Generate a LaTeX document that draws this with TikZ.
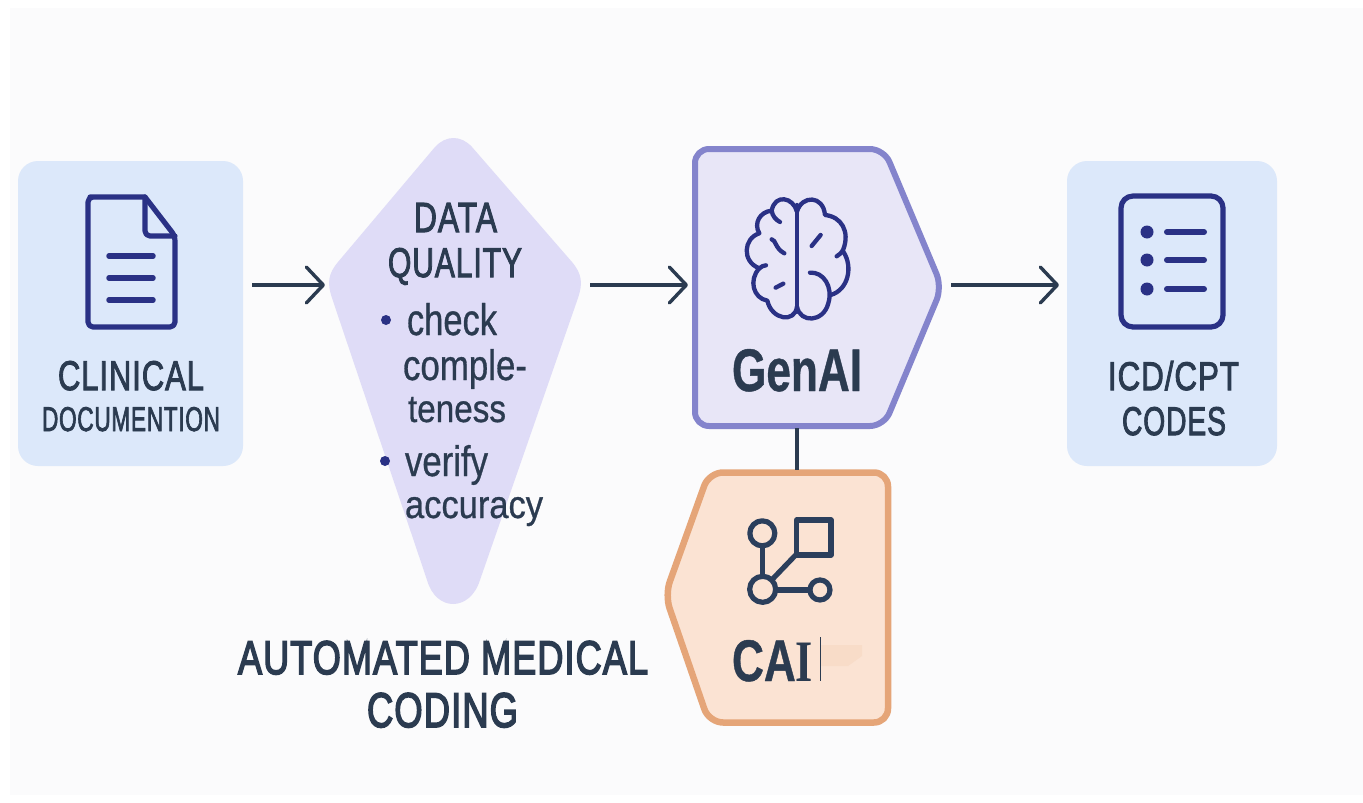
\documentclass[tikz,border=0pt]{standalone}
\usepackage{fontspec}
\usepackage{graphicx}
\usetikzlibrary{arrows.meta}
\setmainfont[FakeBold=0.8,BoldFont={Liberation Sans Bold}]{Liberation Sans}
\newfontfamily\medf[FakeBold=2.6,LetterSpace=3]{Liberation Sans}
\newfontfamily\semif[FakeBold=3.6,LetterSpace=3]{Liberation Sans}
\newfontfamily\slabf{Liberation Serif Bold}
\definecolor{ink}{HTML}{2B3B50}
\definecolor{navy}{HTML}{2A3185}
\definecolor{slateicon}{HTML}{2B3F5C}
\definecolor{paper}{HTML}{FBFBFC}
\definecolor{bluebox}{HTML}{DCE8FA}
\definecolor{lilac}{HTML}{DFDCF7}
\definecolor{genfill}{HTML}{E8E6F7}
\definecolor{genedge}{HTML}{8484CC}
\definecolor{caifill}{HTML}{FBE3D3}
\definecolor{caiedge}{HTML}{E5A578}
\definecolor{patch}{HTML}{F8DCC8}
\newcommand{\fitted}[3]{\resizebox{#1pt}{#2pt}{#3}}
\tikzset{
  lbl/.style={anchor=base west,inner sep=0pt,outer sep=0pt,text=ink},
  panel/.style={fill=bluebox,draw=none,rounded corners=20pt},
  flow/.style={draw=ink,line width=3.4pt,-{Straight Barb[length=17pt,width=36pt,line width=3.4pt,round]}},
  link/.style={draw=ink,line width=3.8pt},
  iconline/.style={draw=navy,line width=5.2pt,line cap=round,line join=round},
  brainline/.style={draw=navy,line width=4.3pt,line cap=round,line join=round},
  graphline/.style={draw=slateicon,line width=5.2pt,line join=round},
  dot/.style={fill=navy,draw=none,circle,inner sep=0pt,minimum size=#1},
}
\begin{document}
\begin{tikzpicture}[x=1pt,y=-1pt]
\useasboundingbox (0,0) rectangle (1363,803);
\fill[white] (0,0) rectangle (1363,803);
\fill[paper] (10,8) rectangle (1363,795);

% panels
\path[panel] (18,161) rectangle (243,466);
\path[panel] (1067,161) rectangle (1277,466);
\fill[lilac] (435,147) .. controls (446,135) and (461,135) .. (472,147) -- (572,262)
  .. controls (582,274) and (583,283) .. (578,298) -- (480,580)
  .. controls (470,612) and (436,612) .. (427,580) -- (332,298)
  .. controls (327,283) and (328,274) .. (338,262) -- cycle;
\draw[fill=genfill,draw=genedge,line width=6pt,rounded corners=14pt,line join=round]
  (695,149) -- (884,149) -- (942,287) -- (884,426) -- (695,426) -- cycle;
\draw[fill=caifill,draw=caiedge,line width=6.5pt,rounded corners=14pt,line join=round]
  (709,472.5) -- (888,472.5) -- (888,722.5) -- (709,722.5) -- (665,595) -- cycle;

% connectors
\coordinate (a1s) at (252,285); \coordinate (a1e) at (325,285);
\coordinate (a2s) at (590,285); \coordinate (a2e) at (688,285);
\coordinate (a3s) at (951,285); \coordinate (a3e) at (1059,285);
\coordinate (genb) at (797,428); \coordinate (cait) at (797,470);
\draw[flow] (a1s) -- (a1e);
\draw[flow] (a2s) -- (a2e);
\draw[flow] (a3s) -- (a3e);
\draw[link] (genb) -- (cait);

% document icon
\draw[iconline,rounded corners=5pt] (145,197) -- (95,197) -- (88,197) -- (88,327) -- (175,327) -- (175,236) -- (145,197);
\draw[iconline,rounded corners=5pt] (145,197) -- (145,236) -- (175,236);
\draw[iconline,line width=5.5pt] (109,256) -- (153,256);
\draw[iconline,line width=5.5pt] (109,278) -- (153,278);
\draw[iconline,line width=5.5pt] (109,300) -- (153,300);

% list icon
\draw[iconline,rounded corners=12pt] (1121,196) rectangle (1223,327);
\node[dot=13pt] (d1) at (1147,232) {};
\node[dot=13pt] (d2) at (1147,260) {};
\node[dot=13pt] (d3) at (1147,289) {};
\draw[iconline,line width=6pt] (1167,232) -- (1204,232);
\draw[iconline,line width=6pt] (1167,260) -- (1204,260);
\draw[iconline,line width=6pt] (1167,289) -- (1204,289);

% brain icon (coordinates: zoomed crop)
\begin{scope}[shift={(660,140)},x=0.3333pt,y=-0.3333pt]
\draw[brainline] (411,195) -- (411,515);
\draw[brainline] (411,215) .. controls (400,172) and (345,160) .. (335,212)
  .. controls (337,228) and (348,240) .. (360,246);
\draw[brainline] (335,212) .. controls (300,215) and (280,250) .. (298,280)
  .. controls (250,295) and (245,365) .. (298,385);
\draw[brainline] (298,385) .. controls (305,378) and (310,378) .. (318,376);
\draw[brainline] (298,385) .. controls (265,420) and (280,475) .. (322,482)
  .. controls (335,540) and (405,550) .. (411,500);
\draw[brainline] (411,215) .. controls (425,165) and (490,165) .. (495,225)
  .. controls (545,230) and (570,275) .. (550,328)
  .. controls (545,338) and (538,345) .. (530,349);
\draw[brainline] (550,335) .. controls (580,380) and (565,450) .. (512,465);
\draw[brainline] (450,398) .. controls (490,395) and (520,440) .. (505,490)
  .. controls (490,548) and (420,550) .. (411,500);
\draw[brainline] (335,298) .. controls (348,300) and (345,325) .. (373,340);
\draw[brainline] (482,285) -- (455,318);
\draw[brainline] (347,443) -- (370,431);
\end{scope}

% graph icon (coordinates: zoomed crop)
\begin{scope}[shift={(650,430)},x=0.3333pt,y=-0.3333pt]
\draw[graphline] (337,310) circle[radius=12.5pt];
\draw[graphline] (338,478) circle[radius=13pt];
\draw[graphline] (510,480) circle[radius=10pt];
\draw[graphline] (440,270) rectangle (543,375);
\draw[graphline] (337,352) -- (337,438);
\draw[graphline] (368,447) -- (440,372);
\draw[graphline] (377,480) -- (478,480);
\end{scope}

% CAI caret and faded patch
\fill[patch] (820,645) -- (862,645) -- (862,656) -- (848,666) -- (820,666) -- cycle;
\draw[ink,line width=0.8pt] (820,637) -- (820,681);

% bullets
\node[dot=10pt] (b1) at (386,320) {};
\node[dot=10pt] (b2) at (385,461) {};

% labels
\node[lbl] (t1) at (58,390) {\fitted{146}{29}{\medf CLINICAL}};
\node[lbl] (t2) at (42,431) {\fitted{178}{24}{\medf DOCUMENTION}};
\node[lbl] (t3) at (414,232) {\fitted{83}{29}{\medf DATA}};
\node[lbl] (t4) at (388,277) {\fitted{134}{29}{\medf QUALITY}};
\node[lbl] (t5) at (407,335) {\fitted{90}{32}{check}};
\node[lbl] (t6) at (403,380) {\fitted{124}{31}{comple-}};
\node[lbl] (t7) at (408,422) {\fitted{98}{25}{teness}};
\node[lbl] (t8) at (405,476) {\fitted{83}{31}{verify}};
\node[lbl] (t9) at (405,518) {\fitted{138}{21}{accuracy}};
\node[lbl] (t10) at (732,391) {\fitted{130}{42}{\bfseries GenAI}};
\node[lbl] (t11) at (732,681) {\fitted{81}{41}{\bfseries CA{\slabf I}}};
\node[lbl] (t12) at (1108,390) {\fitted{131}{29}{\medf ICD/CPT}};
\node[lbl] (t13) at (1122,435) {\fitted{104}{28}{\medf CODES}};
\node[lbl] (t14) at (238,674) {\fitted{410}{33}{\semif AUTOMATED MEDICAL}};
\node[lbl] (t15) at (367,727) {\fitted{151}{34}{\semif CODING}};
\end{tikzpicture}
\end{document}
